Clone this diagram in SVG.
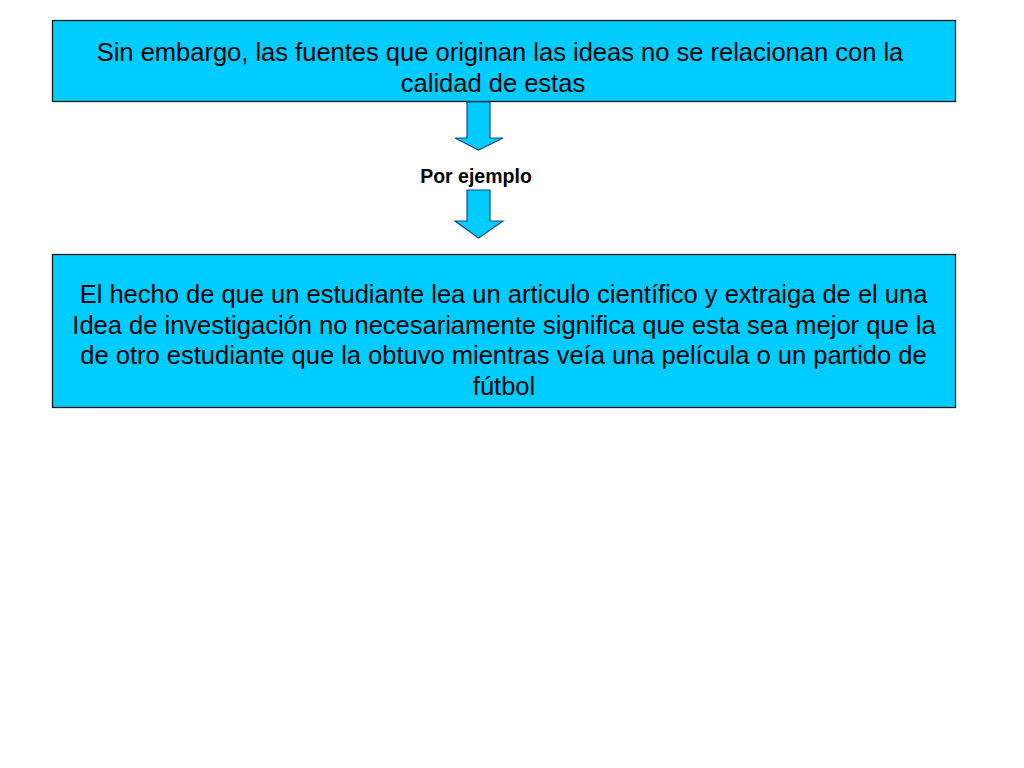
<svg xmlns="http://www.w3.org/2000/svg" width="1024" height="768" viewBox="0 0 1024 768">
<defs>
<style>
.box{fill:#00CCFF;stroke:#1a1a1a;stroke-width:1.3}
.t{font-family:"Liberation Sans",Arial,sans-serif;font-size:25.5px;fill:#000;text-anchor:middle}
.lbl{font-family:"Liberation Sans",Arial,sans-serif;font-size:19.5px;font-weight:bold;fill:#000;text-anchor:middle}
.arr{fill:#00CCFF;stroke:#1a4a7a;stroke-width:1.2}
</style>
</defs>
<rect width="1024" height="768" fill="#fff"/>
<g id="node1">
<rect class="box" x="52.5" y="20.5" width="903" height="81"/>
<text class="t" x="500" y="61">Sin embargo, las fuentes que originan las ideas no se relacionan con la</text>
<text class="t" x="493" y="91.5">calidad de estas</text>
</g>
<g id="label">
<text class="lbl" x="476" y="182.5">Por ejemplo</text>
</g>
<g id="node2">
<rect class="box" x="52.5" y="254.5" width="903" height="153"/>
<text class="t" x="503.5" y="303">El hecho de que un estudiante lea un articulo científico y extraiga de el una</text>
<text class="t" x="504" y="333.5">Idea de investigación no necesariamente significa que esta sea mejor que la</text>
<text class="t" x="503.5" y="364">de otro estudiante que la obtuvo mientras veía una película o un partido de</text>
<text class="t" x="504" y="394.5">fútbol</text>
</g>
<g id="connectors">
<polygon class="arr" points="467,102 490,102 490,138 503,138 478.5,150 455,138 467,138"/>
<polygon class="arr" points="467,190 490,190 490,221 503,221 478.5,238 455,221 467,221"/>
</g>
</svg>
